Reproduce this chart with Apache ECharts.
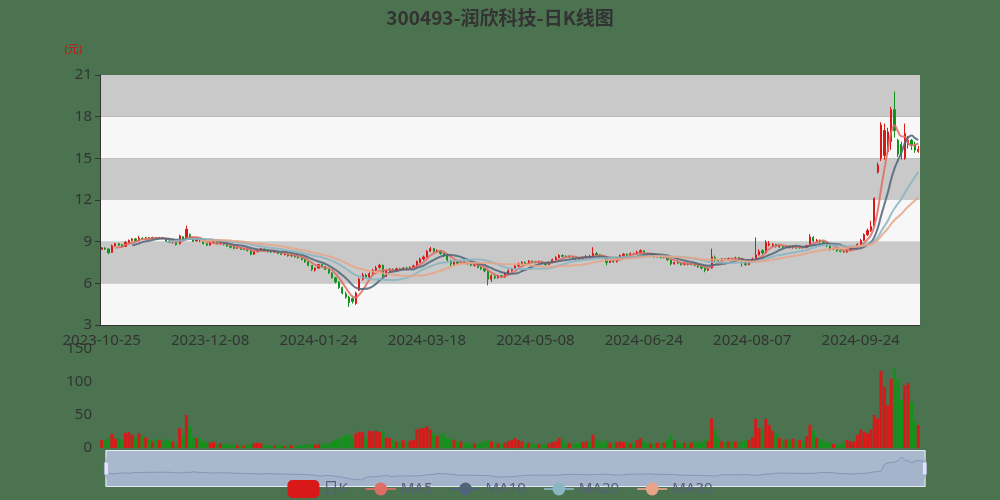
<!DOCTYPE html>
<html><head><meta charset="utf-8">
<script src="https://cdn.jsdelivr.net/npm/echarts@6/dist/echarts.min.js"></script>
<style>html,body{margin:0;padding:0;background:#4b7350;}#main{width:1000px;height:500px;}</style>
</head><body><div id="main"></div>
<script>
const dates = [
'2023-10-25','2023-10-26','2023-10-27','2023-10-30','2023-10-31',
'2023-11-01','2023-11-02','2023-11-03','2023-11-06','2023-11-07','2023-11-08','2023-11-09','2023-11-10','2023-11-13','2023-11-14','2023-11-15','2023-11-16','2023-11-17','2023-11-20','2023-11-21','2023-11-22','2023-11-23','2023-11-24','2023-11-27','2023-11-28','2023-11-29','2023-11-30',
'2023-12-01','2023-12-04','2023-12-05','2023-12-06','2023-12-07','2023-12-08','2023-12-11','2023-12-12','2023-12-13','2023-12-14','2023-12-15','2023-12-18','2023-12-19','2023-12-20','2023-12-21','2023-12-22','2023-12-25','2023-12-26','2023-12-27','2023-12-28','2023-12-29',
'2024-01-02','2024-01-03','2024-01-04','2024-01-05','2024-01-08','2024-01-09','2024-01-10','2024-01-11','2024-01-12','2024-01-15','2024-01-16','2024-01-17','2024-01-18','2024-01-19','2024-01-22','2024-01-23','2024-01-24','2024-01-25','2024-01-26','2024-01-29','2024-01-30','2024-01-31',
'2024-02-01','2024-02-02','2024-02-05','2024-02-06','2024-02-07','2024-02-08','2024-02-19','2024-02-20','2024-02-21','2024-02-22','2024-02-23','2024-02-26','2024-02-27','2024-02-28','2024-02-29',
'2024-03-01','2024-03-04','2024-03-05','2024-03-06','2024-03-07','2024-03-08','2024-03-11','2024-03-12','2024-03-13','2024-03-14','2024-03-15','2024-03-18','2024-03-19','2024-03-20','2024-03-21','2024-03-22','2024-03-25','2024-03-26','2024-03-27','2024-03-28','2024-03-29',
'2024-04-01','2024-04-02','2024-04-03','2024-04-08','2024-04-09','2024-04-10','2024-04-11','2024-04-12','2024-04-15','2024-04-16','2024-04-17','2024-04-18','2024-04-19','2024-04-22','2024-04-23','2024-04-24','2024-04-25','2024-04-26','2024-04-29','2024-04-30',
'2024-05-06','2024-05-07','2024-05-08','2024-05-09','2024-05-10','2024-05-13','2024-05-14','2024-05-15','2024-05-16','2024-05-17','2024-05-20','2024-05-21','2024-05-22','2024-05-23','2024-05-24','2024-05-27','2024-05-28','2024-05-29','2024-05-30','2024-05-31',
'2024-06-03','2024-06-04','2024-06-05','2024-06-06','2024-06-07','2024-06-11','2024-06-12','2024-06-13','2024-06-14','2024-06-17','2024-06-18','2024-06-19','2024-06-20','2024-06-21','2024-06-24','2024-06-25','2024-06-26','2024-06-27','2024-06-28',
'2024-07-01','2024-07-02','2024-07-03','2024-07-04','2024-07-05','2024-07-08','2024-07-09','2024-07-10','2024-07-11','2024-07-12','2024-07-15','2024-07-16','2024-07-17','2024-07-18','2024-07-19','2024-07-22','2024-07-23','2024-07-24','2024-07-25','2024-07-26','2024-07-29','2024-07-30','2024-07-31',
'2024-08-01','2024-08-02','2024-08-05','2024-08-06','2024-08-07','2024-08-08','2024-08-09','2024-08-12','2024-08-13','2024-08-14','2024-08-15','2024-08-16','2024-08-19','2024-08-20','2024-08-21','2024-08-22','2024-08-23','2024-08-26','2024-08-27','2024-08-28','2024-08-29','2024-08-30',
'2024-09-02','2024-09-03','2024-09-04','2024-09-05','2024-09-06','2024-09-09','2024-09-10','2024-09-11','2024-09-12','2024-09-13','2024-09-18','2024-09-19','2024-09-20','2024-09-23','2024-09-24','2024-09-25','2024-09-26','2024-09-27','2024-09-30',
'2024-10-08','2024-10-09','2024-10-10','2024-10-11','2024-10-14','2024-10-15','2024-10-16','2024-10-17','2024-10-18','2024-10-21','2024-10-22','2024-10-23','2024-10-24'
];
// [open, close, low, high]
const ohlc = [
[8.45,8.55,8.40,8.62],[8.55,8.48,8.40,8.60],[8.48,8.20,8.10,8.50],[8.22,8.70,8.20,8.80],[8.70,8.85,8.65,8.92],
[8.85,8.75,8.70,8.92],[8.78,8.62,8.58,8.82],[8.65,8.95,8.62,9.05],[8.95,9.10,8.88,9.15],[9.08,9.20,9.02,9.25],
[9.20,9.05,9.00,9.25],[9.05,9.25,9.02,9.42],[9.25,9.20,9.15,9.32],[9.20,9.28,9.15,9.35],[9.28,9.22,9.15,9.35],
[9.22,9.30,9.18,9.36],[9.30,9.25,9.20,9.35],[9.25,9.30,9.20,9.35],[9.30,9.22,9.18,9.34],[9.22,9.05,9.00,9.25],
[9.05,8.95,8.88,9.08],[8.98,9.00,8.85,9.05],[9.00,8.78,8.72,9.02],[8.85,9.42,8.80,9.50],[9.35,9.15,9.10,9.40],
[9.15,9.90,9.10,10.15],[9.50,9.20,9.15,9.60],[9.28,9.02,8.98,9.32],[9.05,9.28,9.02,9.32],[9.15,9.05,8.95,9.20],
[9.02,8.85,8.80,9.05],[8.85,8.75,8.68,8.90],[8.75,8.92,8.72,8.98],[8.92,8.98,8.85,9.02],[8.95,8.85,8.80,9.00],
[8.85,8.90,8.78,8.95],[8.90,8.80,8.72,8.92],[8.78,8.68,8.62,8.82],[8.68,8.60,8.52,8.72],[8.60,8.52,8.45,8.65],
[8.52,8.58,8.48,8.62],[8.58,8.45,8.40,8.60],[8.45,8.48,8.38,8.52],[8.46,8.35,8.30,8.50],[8.35,8.10,8.02,8.38],
[8.10,8.28,8.05,8.32],[8.28,8.40,8.22,8.45],[8.40,8.50,8.35,8.55],[8.48,8.35,8.30,8.52],[8.35,8.30,8.22,8.40],
[8.30,8.25,8.18,8.35],[8.25,8.30,8.20,8.35],[8.28,8.15,8.10,8.32],[8.15,8.08,8.02,8.20],[8.08,8.12,8.00,8.18],
[8.10,7.98,7.92,8.12],[7.98,8.02,7.90,8.06],[8.00,7.90,7.85,8.05],[7.90,7.85,7.78,7.95],[7.85,7.72,7.65,7.88],
[7.72,7.55,7.48,7.75],[7.55,7.30,7.22,7.58],[7.30,7.00,6.88,7.32],[6.95,7.10,6.85,7.15],[7.10,7.35,7.05,7.40],
[7.35,7.20,7.12,7.42],[7.20,7.00,6.95,7.25],[7.00,6.75,6.68,7.02],[6.75,6.40,6.35,6.80],[6.40,6.10,6.00,6.45],
[6.10,5.70,5.60,6.15],[5.70,5.30,5.20,5.75],[5.25,5.00,4.90,5.40],[5.00,4.60,4.30,5.10],[4.90,4.70,4.55,5.00],
[4.55,5.30,4.45,5.40],[5.50,6.30,5.45,6.40],[6.30,6.60,6.20,6.75],[6.60,6.45,6.35,6.70],[6.45,6.70,6.40,6.80],
[6.70,6.95,6.60,7.05],[6.95,7.10,6.85,7.25],[7.15,7.30,7.05,7.40],[7.30,6.55,6.45,7.35],[6.55,6.90,6.45,6.98],
[6.90,7.00,6.85,7.10],[7.00,6.95,6.88,7.08],[6.95,7.05,6.90,7.12],[7.05,7.02,6.95,7.12],[7.00,7.10,6.95,7.18],
[7.10,7.05,7.00,7.20],[7.05,7.15,7.00,7.22],[7.15,7.25,7.08,7.35],[7.25,7.55,7.20,7.65],[7.50,7.75,7.45,7.85],
[7.75,7.90,7.65,8.00],[7.90,8.30,7.85,8.40],[8.30,8.50,8.25,8.62],[8.50,8.30,8.22,8.55],[8.30,8.35,8.20,8.45],
[8.35,8.15,8.05,8.38],[8.15,8.00,7.90,8.20],[8.00,7.70,7.55,8.05],[7.65,7.40,7.20,7.70],[7.35,7.55,7.25,7.60],
[7.55,7.45,7.38,7.62],[7.45,7.55,7.40,7.62],[7.55,7.48,7.40,7.60],[7.48,7.40,7.35,7.55],[7.40,7.30,7.22,7.45],
[7.30,7.35,7.20,7.42],[7.32,7.15,7.08,7.36],[7.15,7.05,6.95,7.20],[7.05,6.90,6.80,7.10],[6.90,6.30,5.85,6.95],
[6.30,6.55,6.10,6.65],[6.50,6.40,6.30,6.60],[6.40,6.55,6.35,6.62],[6.55,6.45,6.38,6.60],[6.45,6.70,6.40,6.78],
[6.70,6.90,6.65,7.00],[6.90,7.05,6.85,7.12],[7.05,7.25,7.00,7.35],[7.25,7.40,7.18,7.50],[7.40,7.50,7.35,7.60],
[7.50,7.45,7.38,7.58],[7.45,7.60,7.40,7.68],[7.60,7.55,7.48,7.65],[7.55,7.50,7.45,7.62],[7.50,7.58,7.45,7.65],
[7.58,7.45,7.38,7.62],[7.45,7.35,7.28,7.50],[7.35,7.50,7.30,7.58],[7.50,7.70,7.45,7.78],[7.70,7.85,7.65,7.95],
[7.85,8.00,7.80,8.10],[8.00,7.95,7.88,8.08],[7.95,7.90,7.82,8.02],[7.90,7.95,7.85,8.02],[7.95,7.85,7.78,7.98],
[7.85,7.80,7.72,7.90],[7.80,7.75,7.68,7.85],[7.75,7.85,7.70,7.92],[7.85,7.95,7.80,8.02],[7.95,7.90,7.85,8.05],
[7.92,8.15,7.88,8.60],[8.15,8.05,7.95,8.25],[8.05,7.95,7.88,8.10],[7.95,7.85,7.78,8.00],[7.85,7.50,7.30,7.88],
[7.50,7.65,7.45,7.72],[7.65,7.55,7.48,7.70],[7.55,7.80,7.50,7.88],[7.80,8.00,7.75,8.08],[8.00,8.10,7.95,8.18],
[8.10,8.05,7.98,8.15],[8.05,8.15,8.00,8.22],[8.15,8.10,8.05,8.20],[8.10,8.25,8.05,8.35],[8.15,8.35,8.10,8.45],
[8.35,8.10,8.05,8.38],[8.10,8.00,7.92,8.15],[8.00,8.05,7.90,8.12],[8.05,7.90,7.85,8.08],[7.90,7.95,7.85,8.02],
[7.95,7.85,7.78,8.00],[7.85,7.90,7.80,7.98],[7.90,7.70,7.60,7.95],[7.70,7.40,7.30,7.75],[7.40,7.50,7.35,7.55],
[7.50,7.45,7.38,7.55],[7.45,7.35,7.28,7.50],[7.35,7.45,7.30,7.52],[7.45,7.35,7.28,7.48],[7.35,7.40,7.30,7.48],
[7.40,7.30,7.22,7.45],[7.30,7.20,7.10,7.35],[7.20,7.10,7.00,7.25],[7.10,6.95,6.80,7.15],[6.95,7.05,6.88,7.12],
[7.10,7.90,7.05,8.50],[7.85,7.70,7.55,8.00],[7.70,7.60,7.50,7.75],[7.60,7.75,7.55,7.82],[7.75,7.70,7.62,7.82],
[7.70,7.78,7.65,7.85],[7.78,7.75,7.68,7.85],[7.75,7.85,7.70,7.92],[7.85,7.80,7.72,7.90],[7.80,7.55,7.20,7.82],
[7.55,7.35,7.25,7.60],[7.35,7.60,7.30,7.68],[7.60,7.75,7.55,7.85],[7.80,8.05,7.70,9.30],[8.05,8.30,8.00,8.45],
[8.35,8.20,8.10,8.45],[8.20,8.95,8.15,9.10],[8.75,8.85,8.65,9.05],[8.70,8.80,8.62,8.90],[8.80,8.65,8.58,8.85],
[8.65,8.70,8.55,8.78],[8.70,8.60,8.52,8.75],[8.60,8.68,8.55,8.75],[8.68,8.58,8.50,8.72],[8.58,8.65,8.50,8.72],
[8.65,8.55,8.48,8.70],[8.55,8.62,8.50,8.70],[8.62,8.58,8.50,8.68],[8.58,8.70,8.52,8.78],[8.70,9.35,8.65,9.55],
[9.30,9.05,8.95,9.40],[9.05,9.10,8.95,9.20],[9.10,9.00,8.90,9.15],[9.00,8.95,8.85,9.08],[8.95,8.70,8.60,9.00],
[8.70,8.45,8.35,8.75],[8.45,8.50,8.38,8.58],[8.50,8.35,8.25,8.55],[8.35,8.30,8.22,8.42],[8.30,8.25,8.18,8.38],
[8.25,8.40,8.20,8.48],[8.40,8.55,8.35,8.62],[8.50,8.60,8.45,8.68],[8.60,8.80,8.55,8.88],[8.80,9.10,8.75,9.20],
[9.10,9.50,9.05,9.60],[9.50,9.80,9.40,9.95],[9.80,10.10,9.70,10.50],[10.15,12.10,10.10,12.20],[14.00,14.52,13.90,14.70],
[15.00,17.40,14.80,17.60],[15.20,17.00,14.90,17.50],[15.50,16.90,15.30,17.20],[16.20,18.50,15.60,18.70],[18.50,17.00,16.50,19.80],
[16.30,15.30,15.10,16.40],[16.00,15.20,14.90,16.20],[15.00,16.80,14.90,17.50],[16.00,16.30,15.70,16.60],[16.30,16.00,15.60,16.40],
[16.00,15.60,15.40,16.20],[15.50,15.65,15.40,15.90]
];
const volumes = [
12,12,15,21,14,15,12,23,24,20,15,22,19,16,12,10,14,12,10,14,
11,10,8,30,20,50,33,17,15,15,10,9,8,9,6,7,6,6,5,5,
4,5,4,5,6,7,8,7,5,4,4,4,4,4,3,4,4,3,4,4,
5,6,6,5,6,5,6,8,9,12,15,16,20,20,15,22,25,24,15,26,
25,26,24,25,16,15,12,10,9,12,10,11,12,28,30,30,33,28,22,18,
20,22,15,14,12,10,10,8,8,6,7,6,8,10,12,10,8,7,6,8,
10,12,15,12,10,7,8,6,5,6,5,5,7,9,10,15,13,8,7,6,
7,8,9,10,9,20,14,10,8,12,8,6,9,10,9,8,7,7,12,15,
10,8,7,6,8,7,8,12,20,12,9,8,8,7,8,10,9,8,13,10,
45,28,15,10,9,10,9,10,9,10,11,12,16,44,30,28,44,35,26,22,
15,12,13,11,14,10,12,9,18,35,26,15,14,10,9,8,6,5,6,8,
12,10,10,20,28,25,22,28,50,45,117,93,65,105,121,105,73,95,98,70,
40,35
];
const maPeriods = [5, 10, 20, 30];
const maNames = ['MA5', 'MA10', 'MA20', 'MA30'];
const maColors = ['#dd6e66', '#4f6478', '#8ab5c2', '#e8a488'];
const priceTicks = {min: 3, max: 21, interval: 3};
const volumeTicks = {min: 0, max: 150, interval: 50};

const upColor = '#d91818', downColor = '#12921b';

function calculateMA(n) {
  const out = [];
  for (let i = 0; i < ohlc.length; i++) {
    if (i < n - 1) { out.push('-'); continue; }
    let s = 0;
    for (let j = 0; j < n; j++) s += ohlc[i - j][1];
    out.push(+(s / n).toFixed(3));
  }
  return out;
}

const chart = echarts.init(document.getElementById('main'));
const lineSeries = maPeriods.map((p, k) => ({
  name: maNames[k], type: 'line', data: calculateMA(p), smooth: true,
  showSymbol: false, symbol: 'circle', xAxisIndex: 0, yAxisIndex: 0,
  itemStyle: {color: maColors[k]},
  lineStyle: {width: 2, color: maColors[k], opacity: 0.85}
}));

const option = {
  backgroundColor: '#4b7350',
  animation: false,
  textStyle: {fontFamily: 'Noto Sans, Noto Sans CJK SC, sans-serif'},
  title: {
    text: '300493-润欣科技-日K线图', left: 'center', top: 3,
    textStyle: {fontSize: 19, fontWeight: 'bold', color: '#333', fontFamily: 'Noto Sans CJK SC'}
  },
  legend: {
    data: ['日K', 'MA5', 'MA10', 'MA20', 'MA30'], left: 'center', top: 475,
    itemWidth: 30, itemHeight: 16, itemGap: 17, z: 20,
    textStyle: {fontSize: 15, color: '#566079'}
  },
  grid: [
    {left: 100, right: 80, top: 75, height: 250},
    {left: 100, right: 80, top: 349, height: 99}
  ],
  xAxis: [
    {type: 'category', data: dates, boundaryGap: true,
     axisLine: {lineStyle: {color: '#333'}},
     axisTick: {interval: 31, lineStyle: {color: '#333'}},
     axisLabel: {interval: 31, color: '#333', fontSize: 15},
     splitLine: {show: false}},
    {type: 'category', gridIndex: 1, data: dates, boundaryGap: true,
     axisLine: {show: false}, axisTick: {show: false}, axisLabel: {show: false}, splitLine: {show: false}}
  ],
  yAxis: [
    {type: 'value', min: priceTicks.min, max: priceTicks.max, interval: priceTicks.interval,
     name: '(元)', nameGap: 20,
     nameTextStyle: {color: '#d01010', fontSize: 11, align: 'right', padding: [0, 18, 0, 0]},
     axisLine: {show: true, lineStyle: {color: '#333'}},
     axisTick: {show: true, lineStyle: {color: '#333'}},
     axisLabel: {color: '#333', fontSize: 15},
     splitLine: {show: false},
     splitArea: {show: true, areaStyle: {color: ['#f7f7f7', '#c9c9c9']}}},
    {type: 'value', gridIndex: 1, min: volumeTicks.min, max: volumeTicks.max, interval: volumeTicks.interval,
     axisLine: {show: false}, axisTick: {show: false},
     axisLabel: {color: '#333', fontSize: 15}, splitLine: {show: false}}
  ],
  dataZoom: [
    {type: 'inside', xAxisIndex: [0, 1], start: 0, end: 100},
    {type: 'slider', xAxisIndex: [0, 1], start: 0, end: 100,
     left: 103, right: 77, top: 450, height: 37, z: 5,
     backgroundColor: 'rgba(198,205,240,0.78)', fillerColor: 'rgba(167,183,214,0.12)',
     borderColor: '#e6ebf5', showDetail: false, brushSelect: false,
     moveHandleSize: 0, handleSize: '55%',
     handleStyle: {color: '#dfe5f2', borderColor: '#aab6cf'},
     dataBackground: {lineStyle: {color: '#8190b0', width: 1}, areaStyle: {color: 'rgba(130,145,185,0.35)'}},
     selectedDataBackground: {lineStyle: {color: '#8190b0', width: 1}, areaStyle: {color: 'rgba(130,145,185,0.35)'}}}
  ],
  series: [
    {name: '日K', type: 'candlestick', data: ohlc, xAxisIndex: 0, yAxisIndex: 0,
     itemStyle: {color: upColor, color0: downColor, borderColor: upColor, borderColor0: downColor}},
    ...lineSeries,
    {name: '成交量', type: 'bar', xAxisIndex: 1, yAxisIndex: 1, barCategoryGap: '12%',
     data: volumes.map((v, i) => ({value: v, itemStyle: {color: ohlc[i][1] >= ohlc[i][0] ? upColor : downColor}}))}
  ]
};
chart.setOption(option);
</script>
</body></html>
